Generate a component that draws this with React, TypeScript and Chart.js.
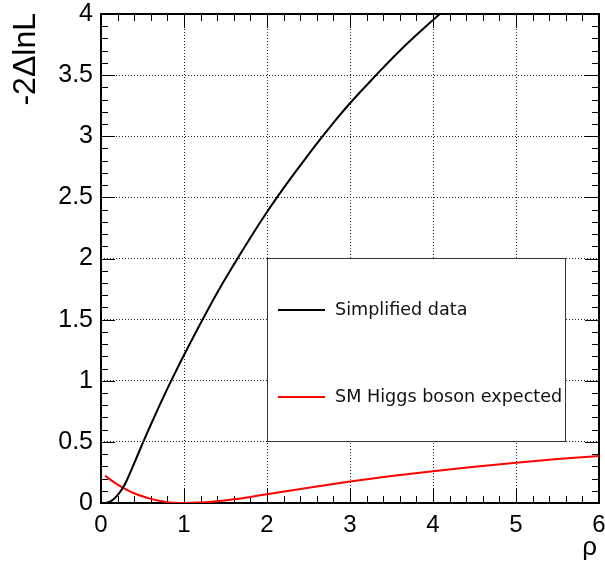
import React, { useEffect, useRef } from 'react';
import { Chart, registerables } from 'chart.js';

Chart.register(...registerables);

// ---- data ----
const blackRho = [0.05, 0.1, 0.15, 0.2, 0.25, 0.3, 0.4, 0.5, 0.6, 0.7, 0.8, 0.9, 1.0, 1.2, 1.4, 1.6, 1.8, 2.0, 2.2, 2.4, 2.6, 2.8, 3.0, 3.3, 3.6, 3.9, 4.2];
const blackNll = [0.0, 0.008, 0.03, 0.065, 0.11, 0.17, 0.325, 0.485, 0.64, 0.79, 0.935, 1.075, 1.21, 1.47, 1.72, 1.95, 2.17, 2.38, 2.575, 2.76, 2.94, 3.11, 3.27, 3.49, 3.7, 3.89, 4.07];
const redRho = [0.05, 0.1, 0.2, 0.3, 0.4, 0.5, 0.6, 0.7, 0.8, 0.9, 1.0, 1.2, 1.4, 1.6, 1.8, 2.0, 2.5, 3.0, 3.5, 4.0, 4.5, 5.0, 5.5, 6.0];
const redNll = [0.225, 0.197, 0.15, 0.112, 0.08, 0.055, 0.034, 0.018, 0.007, 0.0015, 0.0, 0.004, 0.014, 0.03, 0.05, 0.072, 0.125, 0.175, 0.22, 0.26, 0.297, 0.33, 0.36, 0.385];

const xTickValues = [0, 1, 2, 3, 4, 5, 6];
const xTickLabels = ['0', '1', '2', '3', '4', '5', '6'];
const yTickValues = [0, 0.5, 1, 1.5, 2, 2.5, 3, 3.5, 4];
const yTickLabels = ['0', '0.5', '1', '1.5', '2', '2.5', '3', '3.5', '4'];
const seriesNames = ['Simplified data', 'SM Higgs boson expected'];
const seriesColors = ['#000000', '#ff0000'];
const xTitle = 'ρ';
const yTitle = '-2ΔlnL';

const TICK_FONT = "'Liberation Sans', Arial, Helvetica, sans-serif";
const LEGEND_FONT = "'DejaVu Sans', sans-serif";

const rootPlugin = {
  id: 'rootStyle',
  beforeDatasetsDraw(chart: any) {
    const { ctx, chartArea: a, scales } = chart;
    const x = scales.x;
    const y = scales.y;
    ctx.save();

    // inward ticks on all four sides
    ctx.strokeStyle = '#000000';
    ctx.lineWidth = 1;
    ctx.beginPath();
    const nx = Math.round((x.max - x.min) / 0.2);
    for (let i = 0; i <= nx; i++) {
      const v = x.min + i * 0.2;
      const len = i % 5 === 0 ? 14 : 7;
      const px = Math.round(x.getPixelForValue(v)) + 0.5;
      ctx.moveTo(px, a.bottom);
      ctx.lineTo(px, a.bottom - len);
      ctx.moveTo(px, a.top);
      ctx.lineTo(px, a.top + len);
    }
    const ny = Math.round((y.max - y.min) / 0.1);
    for (let i = 0; i <= ny; i++) {
      const v = y.min + i * 0.1;
      const len = i % 5 === 0 ? 14 : 7;
      const py = Math.round(y.getPixelForValue(v)) + 0.5;
      ctx.moveTo(a.left, py);
      ctx.lineTo(a.left + len, py);
      ctx.moveTo(a.right, py);
      ctx.lineTo(a.right - len, py);
    }
    ctx.stroke();

    // frame
    ctx.lineWidth = 2;
    ctx.strokeRect(a.left, a.top, a.right - a.left, a.bottom - a.top);

    // axis titles
    ctx.fillStyle = '#000000';
    ctx.font = `26px ${TICK_FONT}`;
    ctx.textAlign = 'right';
    ctx.textBaseline = 'alphabetic';
    ctx.fillText(xTitle, 597, 555);

    ctx.save();
    ctx.translate(35, a.top - 1);
    ctx.rotate(-Math.PI / 2);
    ctx.font = `32px ${TICK_FONT}`;
    ctx.textAlign = 'right';
    ctx.textBaseline = 'alphabetic';
    ctx.fillText(yTitle, 0, 0);
    ctx.restore();

    ctx.restore();
  },
  afterDatasetsDraw(chart: any) {
    const { ctx } = chart;
    ctx.save();
    // legend box
    const lx = 267.5, ly = 258.5, lw = 298, lh = 183;
    ctx.fillStyle = '#ffffff';
    ctx.fillRect(lx, ly, lw, lh);
    ctx.strokeStyle = '#333333';
    ctx.lineWidth = 1;
    ctx.strokeRect(lx, ly, lw, lh);
    const rows = [310, 397];
    ctx.font = `17.6px ${LEGEND_FONT}`;
    ctx.textBaseline = 'middle';
    ctx.textAlign = 'left';
    for (let i = 0; i < seriesNames.length; i++) {
      ctx.strokeStyle = seriesColors[i];
      ctx.lineWidth = 2;
      ctx.beginPath();
      ctx.moveTo(278, rows[i]);
      ctx.lineTo(325, rows[i]);
      ctx.stroke();
      ctx.fillStyle = '#111111';
      ctx.fillText(seriesNames[i], 335, rows[i]);
    }
    ctx.restore();
  },
};

export default function App() {
  const ref = useRef<HTMLCanvasElement | null>(null);

  useEffect(() => {
    if (!ref.current) return;
    const chart = new Chart(ref.current, {
      type: 'line',
      data: {
        datasets: [
          {
            label: seriesNames[0],
            data: blackRho.map((r, i) => ({ x: r, y: blackNll[i] })),
            borderColor: seriesColors[0],
            borderWidth: 2,
            pointRadius: 0,
            tension: 0.4,
            fill: false,
          },
          {
            label: seriesNames[1],
            data: redRho.map((r, i) => ({ x: r, y: redNll[i] })),
            borderColor: seriesColors[1],
            borderWidth: 2,
            pointRadius: 0,
            cubicInterpolationMode: 'monotone',
            fill: false,
          },
        ],
      },
      options: {
        responsive: false,
        animation: false,
        devicePixelRatio: 1,
        layout: { padding: { left: 0, top: 14, right: 6, bottom: 0 } },
        plugins: { legend: { display: false }, tooltip: { enabled: false } },
        scales: {
          x: {
            type: 'linear',
            min: 0,
            max: 6,
            afterBuildTicks: (s: any) => {
              s.ticks = xTickValues.map((v) => ({ value: v }));
            },
            afterFit: (s: any) => {
              s.height = 66;
              s.paddingLeft = 0;
              s.paddingRight = 0;
            },
            ticks: {
              autoSkip: false,
              maxRotation: 0,
              padding: 8,
              color: '#000000',
              font: { family: TICK_FONT, size: 24 },
              callback: (_v: any, i: number) => xTickLabels[i],
            },
            grid: { color: '#222222', lineWidth: 1, drawTicks: false },
            border: { display: false, dash: [1, 2] },
          },
          y: {
            type: 'linear',
            min: 0,
            max: 4,
            afterBuildTicks: (s: any) => {
              s.ticks = yTickValues.map((v) => ({ value: v }));
            },
            afterFit: (s: any) => {
              s.width = 101;
              s.paddingTop = 0;
              s.paddingBottom = 0;
            },
            ticks: {
              autoSkip: false,
              padding: 8,
              color: '#000000',
              font: { family: TICK_FONT, size: 25 },
              callback: (_v: any, i: number) => yTickLabels[i],
            },
            grid: { color: '#222222', lineWidth: 1, drawTicks: false },
            border: { display: false, dash: [1, 2] },
          },
        },
      },
      plugins: [rootPlugin],
    } as any);
    return () => chart.destroy();
  }, []);

  return (
    <div style={{ position: 'fixed', left: 0, top: 0, width: 605, height: 569, background: '#ffffff' }}>
      <canvas ref={ref} width={605} height={569} />
    </div>
  );
}
